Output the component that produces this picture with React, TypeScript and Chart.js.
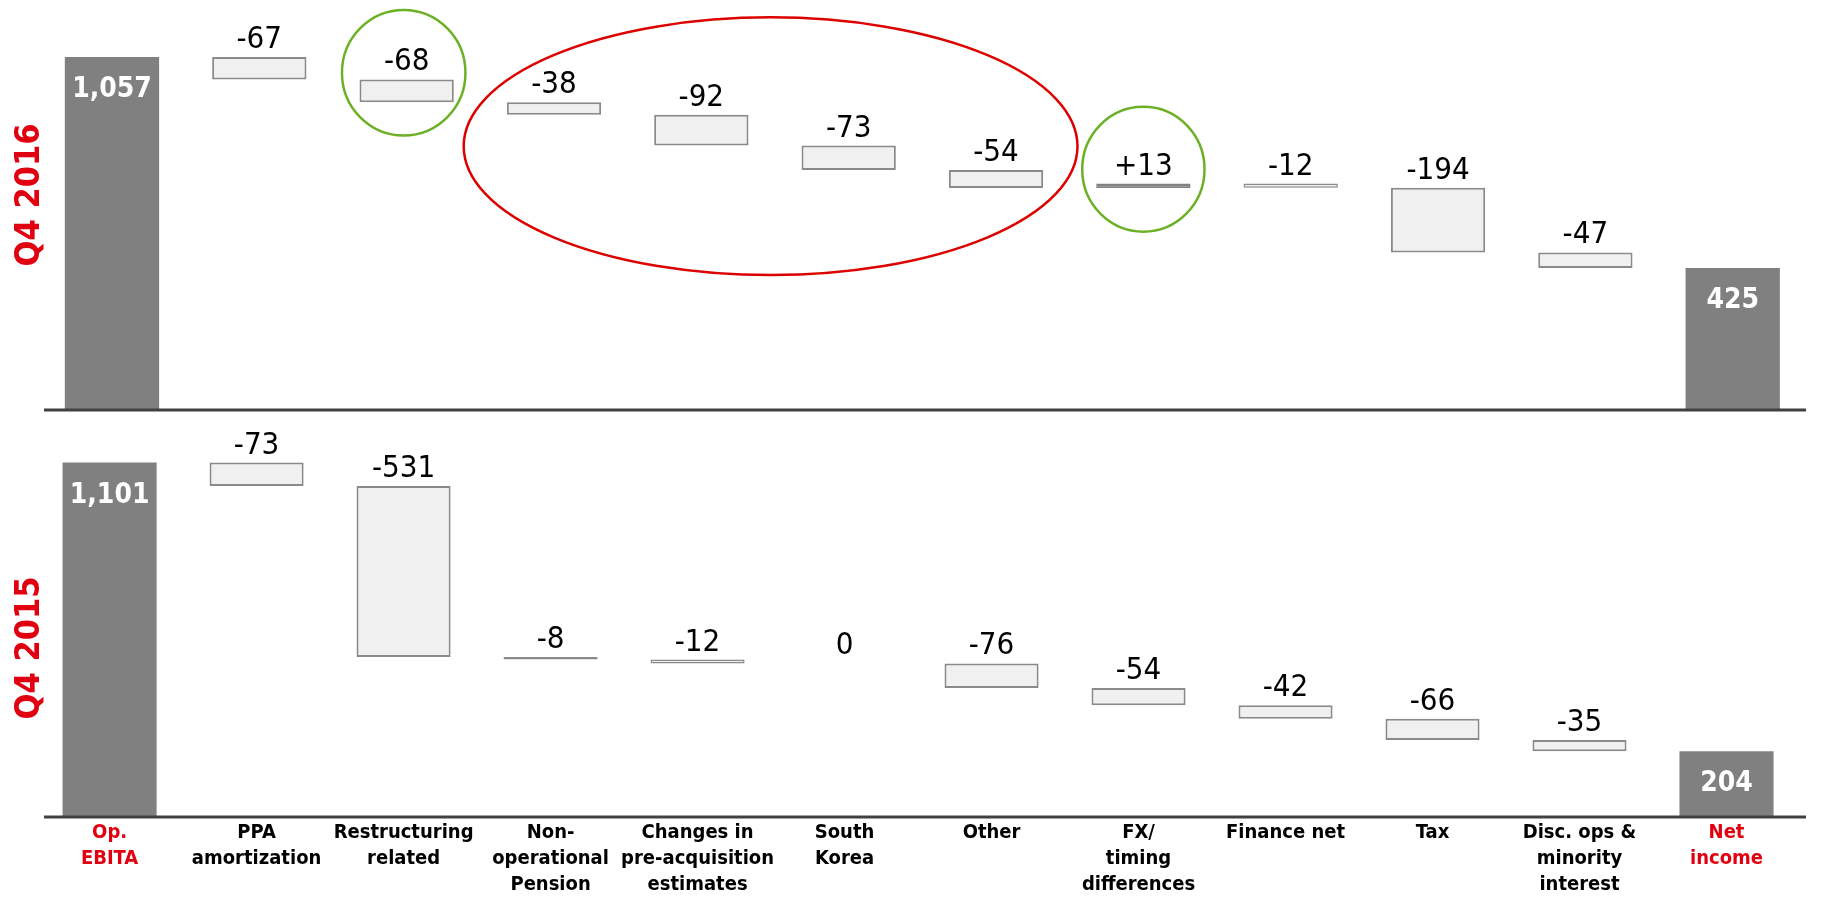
import React, { useEffect, useRef } from "react";
import { Chart, registerables } from "chart.js";

Chart.register(...registerables);

// ---------- data ----------
const categories: string[][] = [
  ["Op.", "EBITA"],
  ["PPA", "amortization"],
  ["Restructuring", "related"],
  ["Non-", "operational", "Pension"],
  ["Changes in", "pre-acquisition", "estimates"],
  ["South", "Korea"],
  ["Other"],
  ["FX/", "timing", "differences"],
  ["Finance net"],
  ["Tax"],
  ["Disc. ops &", "minority", "interest"],
  ["Net", "income"],
];
const isTotal = [true, false, false, false, false, false, false, false, false, false, false, true];
const q4_2016 = [1057, -67, -68, -38, -92, -73, -54, 13, -12, -194, -47, 425];
const q4_2015 = [1101, -73, -531, -8, -12, 0, -76, -54, -42, -66, -35, 204];
const panelTitles = ["Q4 2016", "Q4 2015"];
const redCategoryIdx = [0, 11];

// highlight ellipses on the Q4 2016 panel (category index, value units)
const highlightCenterX = [4.47, 1.98, 7.0];
const highlightCenterY = [790, 1010, 721];
const highlightRadiusX = [2.083, 0.419, 0.415];
const highlightRadiusY = [386, 188, 187];
const highlightColors = ["#dd0000", "#6cb026", "#6cb026"];

// ---------- styling ----------
const RED = "#e0000f";
const TOTAL_FILL = "#808080";
const DELTA_FILL = "#f0f0f0";
const DELTA_BORDER = "#8a8a8a";
const AXIS_COLOR = "#404040";
const FONT_REG = "'DejaVu Sans Condensed', 'DejaVu Sans', sans-serif";

function buildWaterfall(values: number[]) {
  let cum = 0;
  const ranges: (number[] | null)[] = [];
  const tops: number[] = [];
  values.forEach((v, i) => {
    if (isTotal[i]) {
      cum = v;
      ranges.push([0, v]);
      tops.push(v);
    } else {
      const s = cum;
      cum += v;
      ranges.push(v === 0 ? null : [s, cum]);
      tops.push(Math.max(s, cum));
    }
  });
  return { ranges, tops };
}

function fmt(v: number, i: number) {
  if (isTotal[i]) return v.toLocaleString("en-US");
  if (v > 0) return "+" + v;
  return String(v);
}

type PanelProps = {
  values: number[];
  title: string;
  width: number;
  height: number;
  top: number;
  padLeft: number;
  padRight: number;
  padBottom: number;
  yMax: number;
  showCategories: boolean;
  titleY: number;
  lineStart: number;
  lineEnd: number;
  highlights: boolean;
};

function Panel(p: PanelProps) {
  const ref = useRef<HTMLCanvasElement | null>(null);
  useEffect(() => {
    if (!ref.current) return;
    const { ranges, tops } = buildWaterfall(p.values);
    const bg = p.values.map((v, i) => (isTotal[i] ? TOTAL_FILL : v > 0 ? TOTAL_FILL : DELTA_FILL));
    const bc = p.values.map((v, i) => (isTotal[i] ? TOTAL_FILL : v > 0 ? TOTAL_FILL : DELTA_BORDER));
    const bw = p.values.map((v, i) => (isTotal[i] ? 0 : Math.abs(v) < 20 ? 1.5 : 2));

    const overlay = {
      id: "overlay",
      afterDatasetsDraw(chart: any) {
        const ctx = chart.ctx;
        const xs = chart.scales.x;
        const ys = chart.scales.y;
        const x0 = xs.getPixelForValue(0);
        const cw = xs.getPixelForValue(1) - x0;
        // axis line
        const y0 = ys.getPixelForValue(0);
        ctx.save();
        ctx.strokeStyle = AXIS_COLOR;
        ctx.lineWidth = 3;
        ctx.beginPath();
        ctx.moveTo(p.lineStart, y0);
        ctx.lineTo(p.lineEnd, y0);
        ctx.stroke();
        // value labels
        ctx.textAlign = "center";
        ctx.textBaseline = "alphabetic";
        p.values.forEach((v, i) => {
          const x = xs.getPixelForValue(i);
          const yt = ys.getPixelForValue(tops[i]);
          if (isTotal[i]) {
            ctx.fillStyle = "#ffffff";
            ctx.font = `bold 28px ${FONT_REG}`;
            ctx.fillText(fmt(v, i), x, yt + 40);
          } else {
            ctx.fillStyle = "#000000";
            ctx.font = `31px ${FONT_REG}`;
            ctx.fillText(fmt(v, i), x, yt - 9);
          }
        });
        // highlight ellipses
        if (p.highlights) {
          highlightCenterX.forEach((cx, k) => {
            const px = x0 + cx * cw;
            const py = ys.getPixelForValue(highlightCenterY[k]);
            const rx = highlightRadiusX[k] * cw;
            const ry = Math.abs(ys.getPixelForValue(highlightRadiusY[k]) - ys.getPixelForValue(0));
            ctx.strokeStyle = highlightColors[k];
            ctx.lineWidth = 2.5;
            ctx.beginPath();
            ctx.ellipse(px, py, rx, ry, 0, 0, Math.PI * 2);
            ctx.stroke();
          });
        }
        // rotated panel title
        ctx.translate(30, p.titleY);
        ctx.rotate(-Math.PI / 2);
        ctx.fillStyle = RED;
        ctx.font = `bold 34px ${FONT_REG}`;
        ctx.textAlign = "center";
        ctx.textBaseline = "middle";
        ctx.fillText(p.title, 0, 0);
        ctx.restore();
      },
    };

    const xScale: any = {
      display: p.showCategories,
      grid: { display: false, drawTicks: false },
      border: { display: false },
      ticks: {
        autoSkip: false,
        maxRotation: 0,
        minRotation: 0,
        padding: 3,
        color: (c: any) => (redCategoryIdx.includes(c.index) ? RED : "#000000"),
        font: { family: FONT_REG, size: 20, weight: "bold", lineHeight: 1.3 },
      },
    };
    if (p.showCategories) {
      xScale.afterFit = (scale: any) => {
        scale.height = 85;
      };
    }

    const chart = new Chart(ref.current, {
      type: "bar",
      data: {
        labels: categories,
        datasets: [
          {
            data: ranges as any,
            backgroundColor: bg,
            borderColor: bc,
            borderWidth: bw,
            borderSkipped: false,
            barPercentage: 0.64,
            categoryPercentage: 1,
          },
        ],
      },
      options: {
        responsive: false,
        animation: false,
        devicePixelRatio: 1,
        layout: {
          padding: { left: p.padLeft, right: p.padRight, top: 10, bottom: p.padBottom },
        },
        plugins: { legend: { display: false }, tooltip: { enabled: false } },
        scales: {
          x: xScale,
          y: {
            display: false,
            min: 0,
            max: p.yMax,
          },
        },
      },
      plugins: [overlay],
    });
    return () => chart.destroy();
  }, []);
  return (
    <canvas
      ref={ref}
      width={p.width}
      height={p.height}
      style={{ position: "absolute", left: 0, top: p.top, width: p.width, height: p.height }}
    />
  );
}

export default function App() {
  return (
    <div style={{ position: "absolute", left: 0, top: 0, width: 1822, height: 902, background: "#fff" }}>
      <Panel
        values={q4_2016}
        title={panelTitles[0]}
        width={1822}
        height={420}
        top={0}
        padLeft={38.3}
        padRight={15.6}
        padBottom={10}
        yMax={1198}
        showCategories={false}
        titleY={195}
        lineStart={44}
        lineEnd={1806}
        highlights={true}
      />
      <Panel
        values={q4_2015}
        title={panelTitles[1]}
        width={1822}
        height={482}
        top={420}
        padLeft={36.1}
        padRight={22}
        padBottom={0}
        yMax={1202}
        showCategories={true}
        titleY={228}
        lineStart={44}
        lineEnd={1806}
        highlights={false}
      />
    </div>
  );
}
